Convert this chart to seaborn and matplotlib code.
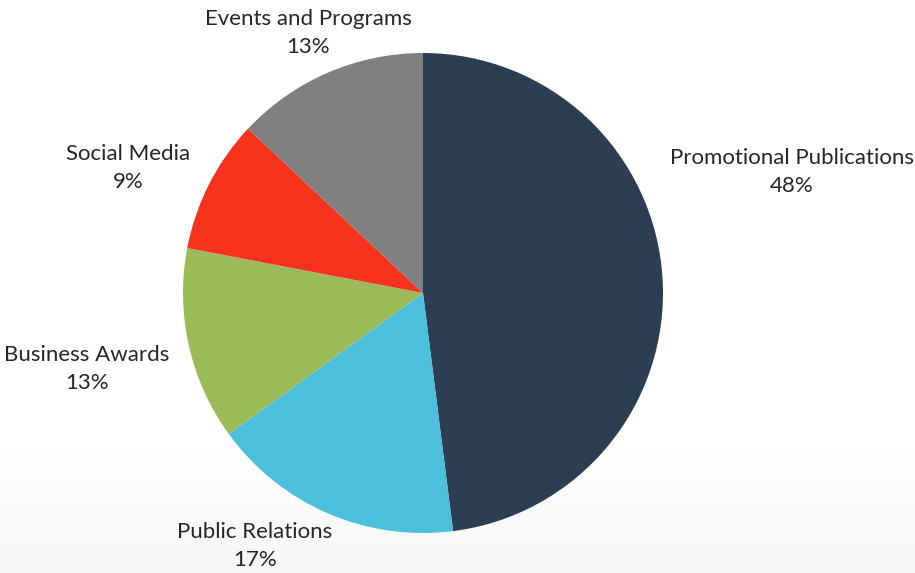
import numpy as np
import matplotlib
matplotlib.use("Agg")
import matplotlib.pyplot as plt
import seaborn as sns

categories = ["Promotional Publications", "Public Relations", "Business Awards",
              "Social Media", "Events and Programs"]
shares = [48, 17, 13, 9, 13]
colors = ["#2c3e51", "#4bbfdb", "#9bbb59", "#f5331d", "#808080"]

# label anchor positions (figure pixels, origin top-left)
label_xy = [(792, 172), (255, 546), (87, 369), (128, 168), (308, 33)]

sns.set_theme(style="white")
plt.rcParams["font.family"] = ["Lato", "DejaVu Sans"]

W, H = 915, 573
fig = plt.figure(figsize=(W / 100, H / 100), dpi=100)
ax = fig.add_axes([0, 0, 1, 1])

# faint grey wash at the bottom of the canvas, fading upward into white
grad = np.linspace(0, 1, 256).reshape(-1, 1)
wash = matplotlib.colors.LinearSegmentedColormap.from_list("wash", ["#f6f6f6", "#ffffff"])
ax.imshow(grad, extent=(0, W, 0, 120), cmap=wash, origin="lower", aspect="auto", zorder=0)

ax.pie(shares, colors=sns.color_palette(colors), startangle=90, counterclock=False,
       radius=240, center=(423, H - 293), frame=True,
       wedgeprops=dict(linewidth=0, antialiased=True))
ax.set_xlim(0, W)
ax.set_ylim(0, H)
ax.set_aspect("equal")
ax.axis("off")

for name, val, (x, y) in zip(categories, shares, label_xy):
    ax.text(x, H - y, f"{name}\n{val}%", ha="center", va="center",
            fontsize=16, color="#262626", linespacing=1.55)

fig.savefig("out.png", dpi=100)
